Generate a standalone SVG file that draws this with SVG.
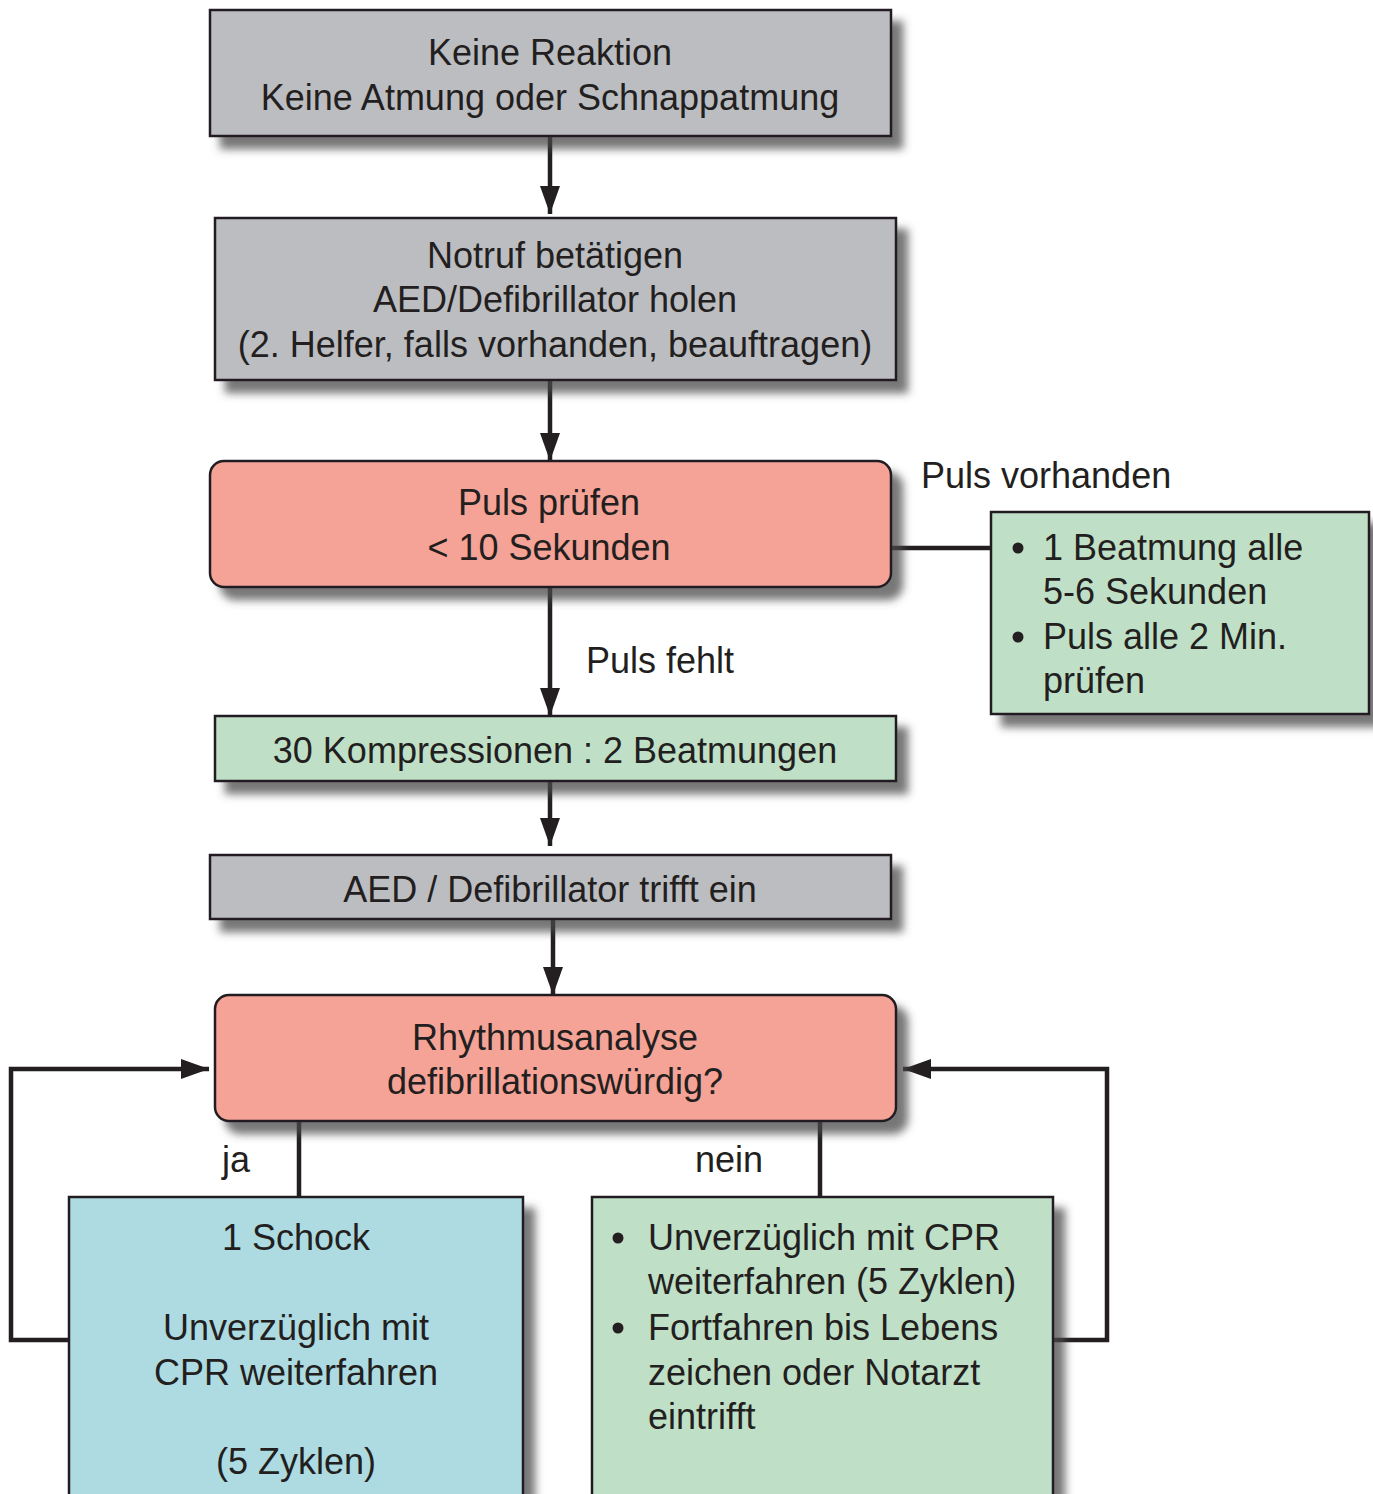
<svg xmlns="http://www.w3.org/2000/svg" width="1373" height="1494" viewBox="0 0 1373 1494">
<defs>
<filter id="sh" x="-10%" y="-20%" width="130%" height="160%">
<feDropShadow dx="11" dy="12" stdDeviation="4" flood-color="#4a4a4a" flood-opacity="0.75"/>
</filter>
<marker id="ah" markerUnits="userSpaceOnUse" markerWidth="28" markerHeight="20" refX="28" refY="10" viewBox="0 0 28 20" orient="auto">
<path d="M0,0 L28,10 L0,20 Z" fill="#231f20"/>
</marker>
<style>
.box{stroke:#231f20;stroke-width:2.5;filter:url(#sh)}
.gray{fill:#bcbdc1}
.red{fill:#f5a396}
.green{fill:#c0dfc7}
.blue{fill:#addbe1}
text{font-family:"Liberation Sans",Arial,sans-serif;font-size:36px;fill:#231f20}
.c{text-anchor:middle}
.ln{stroke:#231f20;stroke-width:4.5;fill:none}
</style>
</defs>
<rect width="1373" height="1494" fill="#fff"/>

<g id="connectors">
<line class="ln" x1="550" y1="136" x2="550" y2="214" marker-end="url(#ah)"/>
<line class="ln" x1="550" y1="380" x2="550" y2="461" marker-end="url(#ah)"/>
<line class="ln" x1="891" y1="548" x2="991" y2="548"/>
<line class="ln" x1="550" y1="587" x2="550" y2="716" marker-end="url(#ah)"/>
<line class="ln" x1="550" y1="781" x2="550" y2="846" marker-end="url(#ah)"/>
<line class="ln" x1="553" y1="919" x2="553" y2="995" marker-end="url(#ah)"/>
<line class="ln" x1="299" y1="1121" x2="299" y2="1197"/>
<line class="ln" x1="820" y1="1121" x2="820" y2="1197"/>
<polyline class="ln" points="69,1340 11,1340 11,1069 209,1069" marker-end="url(#ah)"/>
<polyline class="ln" points="1053,1340 1107,1340 1107,1069 903,1069" marker-end="url(#ah)"/>
<text x="921" y="488">Puls vorhanden</text>
<text x="586" y="673">Puls fehlt</text>
<text x="222" y="1172">ja</text>
<text x="695" y="1172">nein</text>
</g>

<g id="n1">
<rect class="box gray" x="210" y="10" width="681" height="126"/>
<text class="c" x="550" y="65">Keine Reaktion</text>
<text class="c" x="550" y="110">Keine Atmung oder Schnappatmung</text>
</g>

<g id="n2">
<rect class="box gray" x="215" y="218" width="681" height="162"/>
<text class="c" x="555" y="268">Notruf betätigen</text>
<text class="c" x="555" y="312">AED/Defibrillator holen</text>
<text class="c" x="555" y="357">(2. Helfer, falls vorhanden, beauftragen)</text>
</g>

<g id="n3">
<rect class="box red" x="210" y="461" width="681" height="126" rx="14"/>
<text class="c" x="549" y="515">Puls prüfen</text>
<text class="c" x="549" y="560">&lt; 10 Sekunden</text>
</g>

<g id="n4">
<rect class="box green" x="991" y="512" width="378" height="202"/>
<circle cx="1018" cy="548" r="5.5" fill="#231f20"/>
<circle cx="1018" cy="637" r="5.5" fill="#231f20"/>
<text x="1043" y="560">1 Beatmung alle</text>
<text x="1043" y="604">5-6 Sekunden</text>
<text x="1043" y="649">Puls alle 2 Min.</text>
<text x="1043" y="693">prüfen</text>
</g>

<g id="n5">
<rect class="box green" x="215" y="716" width="681" height="65"/>
<text class="c" x="555" y="763">30 Kompressionen : 2 Beatmungen</text>
</g>

<g id="n6">
<rect class="box gray" x="210" y="855" width="681" height="64"/>
<text class="c" x="550" y="902">AED / Defibrillator trifft ein</text>
</g>

<g id="n7">
<rect class="box red" x="215" y="995" width="681" height="126" rx="14"/>
<text class="c" x="555" y="1050">Rhythmusanalyse</text>
<text class="c" x="555" y="1094">defibrillationswürdig?</text>
</g>

<g id="n8">
<rect class="box blue" x="69" y="1197" width="454" height="320"/>
<text class="c" x="296" y="1250">1 Schock</text>
<text class="c" x="296" y="1340">Unverzüglich mit</text>
<text class="c" x="296" y="1385">CPR weiterfahren</text>
<text class="c" x="296" y="1474">(5 Zyklen)</text>
</g>

<g id="n9">
<rect class="box green" x="592" y="1197" width="461" height="320"/>
<circle cx="618" cy="1238" r="5.5" fill="#231f20"/>
<circle cx="618" cy="1328" r="5.5" fill="#231f20"/>
<text x="648" y="1250">Unverzüglich mit CPR</text>
<text x="648" y="1294">weiterfahren (5 Zyklen)</text>
<text x="648" y="1340">Fortfahren bis Lebens</text>
<text x="648" y="1385">zeichen oder Notarzt</text>
<text x="648" y="1429">eintrifft</text>
</g>
</svg>
